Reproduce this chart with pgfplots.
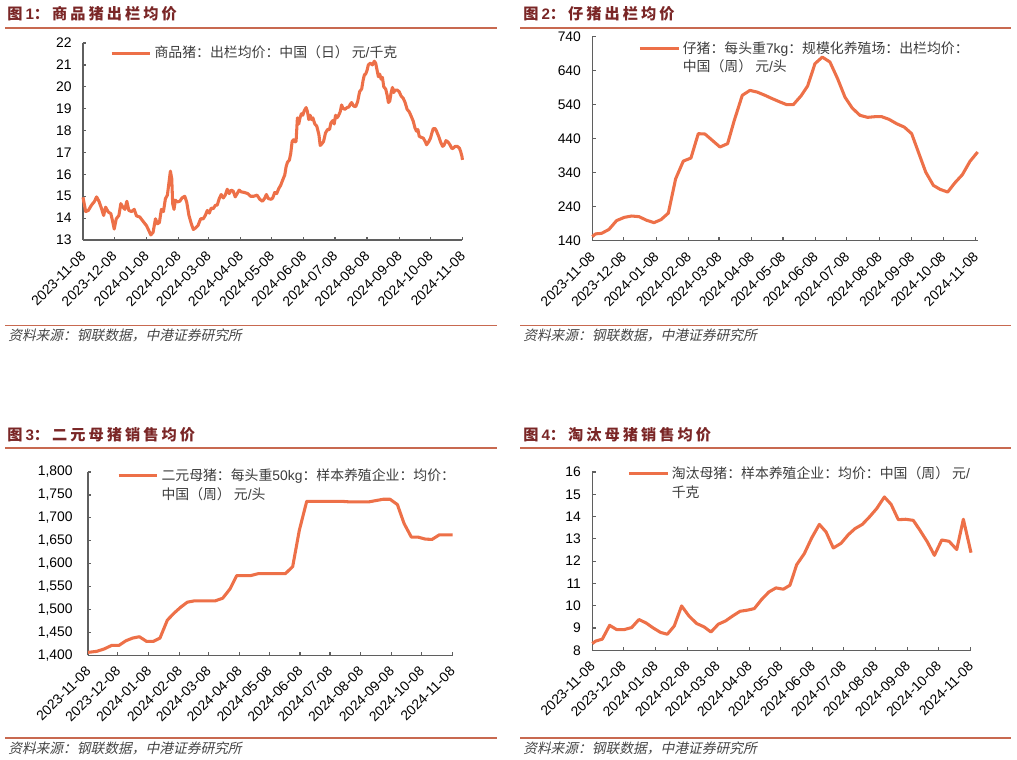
\documentclass[border=0pt]{standalone}
\usepackage{fontspec}
\setmainfont{Liberation Sans}
\newfontfamily\cjk{Noto Sans CJK SC}
\newfontfamily\cjkit[FakeSlant=0.22]{Noto Sans CJK SC}
\newfontfamily\cjkt[LetterSpace=20]{Noto Sans CJK SC}
\usepackage{pgfplots}
\pgfplotsset{compat=1.18}
\definecolor{lc}{RGB}{237,112,72}
\definecolor{tc}{RGB}{122,38,38}
\definecolor{rc}{RGB}{200,105,80}
\definecolor{axc}{RGB}{95,95,95}
\definecolor{legc}{RGB}{60,60,60}
\definecolor{srcc}{RGB}{70,70,70}
\pgfplotsset{
 ser/.style={color=lc, line width=2.3pt, line join=round, mark=none},
 pan/.style={scale only axis, axis lines*=left,
  axis line style={axc,line width=0.9pt},
  tick style={axc,line width=0.9pt},
  tick align=inside, major tick length=2.5pt,
  xmin=0,
  xtick={0,30,61,92,121,152,182,213,243,274,305,335,366},
  xticklabels={2023-11-08,2023-12-08,2024-01-08,2024-02-08,2024-03-08,2024-04-08,2024-05-08,2024-06-08,2024-07-08,2024-08-08,2024-09-08,2024-10-08,2024-11-08},
  xticklabel style={xshift=-2.5pt, yshift=-6pt, rotate=45, anchor=north east, font=\fontsize{10.4}{10}\selectfont, inner sep=1pt},
  yticklabel style={font=\fontsize{10.4}{10}\selectfont, xshift=-5pt},
  /pgf/number format/assume math mode=true,
  legend style={draw=none, fill=none, font=\fontsize{10.4}{13.8}\selectfont\color{legc}, inner sep=0pt, column sep=0pt, anchor=west, cells={align=left, anchor=west, inner sep=2.5pt}},
  legend image code/.code={\draw[lc,line width=2.3pt] (0pt,0pt)--(29pt,0pt);},
  clip=false},
 two/.style={legend image code/.code={\draw[lc,line width=2.3pt] (0pt,6.9pt)--(29pt,6.9pt);}}
}
\begin{document}
\begin{tikzpicture}
\useasboundingbox (0,0) rectangle (762.75pt,-570pt);
% titles
\node[anchor=west, inner sep=0pt, text=tc] at (5.25pt,-10.5pt) {\fontsize{11.4}{12}\selectfont{\cjkt\bfseries 图}\textbf{1}{\cjkt\bfseries ：商品猪出栏均价}};
\node[anchor=west, inner sep=0pt, text=tc] at (392.25pt,-10.5pt) {\fontsize{11.4}{12}\selectfont{\cjkt\bfseries 图}\textbf{2}{\cjkt\bfseries ：仔猪出栏均价}};
\node[anchor=west, inner sep=0pt, text=tc] at (5.25pt,-326.25pt) {\fontsize{11.4}{12}\selectfont{\cjkt\bfseries 图}\textbf{3}{\cjkt\bfseries ：二元母猪销售均价}};
\node[anchor=west, inner sep=0pt, text=tc] at (392.25pt,-326.25pt) {\fontsize{11.4}{12}\selectfont{\cjkt\bfseries 图}\textbf{4}{\cjkt\bfseries ：淘汰母猪销售均价}};
% rules
\draw[rc, line width=1.1pt] (3.75pt,-21pt)--(372.75pt,-21pt);
\draw[rc, line width=1.1pt] (390pt,-21pt)--(758.25pt,-21pt);
\draw[rc, line width=1.1pt] (3.75pt,-244.1pt)--(372.75pt,-244.1pt);
\draw[rc, line width=1.1pt] (390pt,-244.1pt)--(758.25pt,-244.1pt);
\draw[rc, line width=1.1pt] (3.75pt,-336pt)--(372.75pt,-336pt);
\draw[rc, line width=1.1pt] (390pt,-336pt)--(758.25pt,-336pt);
\draw[rc, line width=1.1pt] (3.75pt,-553.5pt)--(372.75pt,-553.5pt);
\draw[rc, line width=1.1pt] (390pt,-553.5pt)--(758.25pt,-553.5pt);
% sources
\node[anchor=west, inner sep=0pt, text=srcc] at (6pt,-251.25pt) {\cjkit\fontsize{10.3}{11}\selectfont 资料来源：钢联数据，中港证券研究所};
\node[anchor=west, inner sep=0pt, text=srcc] at (392.25pt,-251.25pt) {\cjkit\fontsize{10.3}{11}\selectfont 资料来源：钢联数据，中港证券研究所};
\node[anchor=west, inner sep=0pt, text=srcc] at (6pt,-561pt) {\cjkit\fontsize{10.3}{11}\selectfont 资料来源：钢联数据，中港证券研究所};
\node[anchor=west, inner sep=0pt, text=srcc] at (392.25pt,-561pt) {\cjkit\fontsize{10.3}{11}\selectfont 资料来源：钢联数据，中港证券研究所};

% Panel 1
\begin{axis}[pan, at={(62.25pt,-180pt)}, anchor=south west, width=284.6pt, height=147.75pt,
  xmax=366, ymin=13, ymax=22, ytick={13,14,...,22},
  legend style={at={(axis description cs:0.071,0.949)}}]
\addplot[ser] coordinates {(0,14.95) (2.6,14.3) (5.1,14.35) (8.3,14.6) (10.9,14.75) (13.1,14.97) (15.4,14.77) (17.9,14.43) (19.9,14.12) (21.8,14.5) (24.4,14.28) (26.9,14.2) (28.8,13.8) (30.1,13.5) (32.1,13.97) (34.6,14.12) (36.5,14.66) (38.5,14.5) (40.4,14.4) (42.3,14.77) (44.2,14.35) (46.8,14.3) (49.4,14.4) (51.6,14.1) (54.8,14.05) (58.0,13.85) (61.2,13.66) (63.5,13.43) (65.4,13.23) (67.6,13.35) (69.9,13.97) (71.8,13.74) (73.7,13.8) (75.6,14.4) (77.6,14.3) (79.5,14.89) (81.4,15.05) (83.0,15.66) (84.3,16.15) (85.6,15.8) (86.5,14.66) (87.8,14.4) (89.1,14.82) (91.0,14.74) (93.3,14.77) (95.5,14.92) (98.1,15.0) (100.0,14.74) (102.2,14.12) (104.5,13.74) (106.4,13.48) (108.3,13.54) (110.9,13.66) (113.5,13.97) (116.0,13.97) (117.9,14.12) (119.9,14.35) (121.8,14.23) (123.7,14.46) (125.6,14.43) (127.6,14.58) (129.5,14.6) (131.4,14.89) (133.3,15.08) (135.3,14.92) (137.2,15.05) (139.1,15.32) (141.0,15.12) (142.9,15.28) (144.9,15.23) (146.8,14.97) (148.7,15.12) (150.6,15.28) (152.6,15.2) (155.8,15.17) (159.0,15.12) (161.5,15.0) (164.7,15.0) (167.9,15.05) (170.5,14.86) (173.1,14.77) (175.0,14.89) (176.9,15.08) (178.8,14.89) (181.4,14.86) (183.0,14.92) (184.9,15.17) (186.8,15.12) (188.8,15.35) (190.7,15.5) (192.6,15.74) (194.6,15.97) (195.9,16.35) (197.2,16.55) (199.1,16.66) (200.4,16.97) (201.7,17.5) (203.0,17.58) (204.3,17.48) (205.5,17.5) (206.8,18.58) (208.1,18.3) (209.4,18.6) (210.7,18.77) (212.0,18.7) (213.3,18.9) (215.2,19.05) (216.5,18.86) (217.8,18.5) (219.1,18.7) (220.4,18.5) (221.7,18.58) (223.6,18.3) (225.5,18.2) (227.5,17.82) (228.8,17.32) (230.1,17.38) (232.0,17.5) (233.9,17.89) (235.9,18.05) (237.8,18.05) (239.1,18.35) (241.0,18.46) (242.3,18.3) (243.6,18.7) (244.9,18.58) (246.2,18.66) (248.1,18.86) (249.4,19.17) (250.7,19.02) (252.6,18.97) (254.6,19.05) (256.5,19.08) (257.8,19.2) (259.1,19.28) (261.0,19.12) (263.0,19.09) (264.9,19.32) (266.8,19.78) (268.8,19.9) (270.1,20.28) (271.4,20.55) (272.6,20.58) (273.9,20.74) (275.2,21.0) (277.2,21.08) (279.1,21.0) (281.0,21.17) (282.3,21.08) (283.6,20.77) (284.9,20.46) (286.2,20.58) (287.5,20.35) (288.8,20.43) (290.1,20.0) (292.0,19.89) (293.3,19.63) (294.6,19.28) (295.9,19.35) (297.2,19.74) (298.5,19.97) (299.7,19.74) (301.0,19.85) (303.0,19.85) (304.9,19.78) (306.8,19.58) (308.8,19.48) (310.7,19.28) (312.6,18.97) (314.6,18.86) (316.5,18.66) (318.5,18.43) (320.2,18.12) (321.7,17.97) (323.0,18.05) (324.3,17.74) (326.2,17.69) (328.1,17.66) (330.1,17.5) (331.4,17.35) (333.3,17.48) (335.2,17.66) (336.5,17.89) (337.8,18.09) (339.7,18.09) (341.0,17.97) (343.0,17.74) (344.9,17.48) (346.8,17.28) (348.1,17.32) (350.1,17.54) (352.0,17.48) (353.9,17.35) (355.9,17.17) (357.2,17.2) (359.1,17.28) (361.0,17.28) (363.0,17.2) (364.2,17.05) (365.5,16.82) (366,16.66)};
\addlegendentry{{\cjk 商品猪：出栏均价：中国（日）\ 元}/{\cjk 千克}}
\end{axis}

% Panel 2
\begin{axis}[pan, two, at={(444.2pt,-180.5pt)}, anchor=south west, width=289.1pt, height=153pt,
  xmax=368, ymin=140, ymax=740, ytick={140,240,...,740},
  legend style={at={(axis description cs:0.119,0.898)}}]
\addplot[ser] coordinates {(0,152) (3.2,160) (8.9,161.5) (15.9,173) (23.2,199) (30.6,208.6) (37.6,212.5) (44.6,210.6) (51.9,200) (58.9,193) (65.6,201.8) (72.6,221) (79.6,322) (86.9,374) (94.2,383) (101.2,454.7) (107.6,453.7) (114.6,435) (121.9,415.5) (129.2,425.3) (135.6,494) (143.2,567.5) (150.5,582) (157.5,577) (164.9,567.5) (171.9,557.6) (179.2,548) (185.6,540) (191.9,540) (199.2,565.5) (205.6,595) (212.6,660.6) (219.6,680) (226.9,665.5) (234.2,616.5) (241.2,562.5) (248.2,530) (255.6,508.6) (262.9,502.7) (269.9,504.7) (276.3,504.7) (283.3,496.9) (290.6,484) (297.9,474) (304.9,454.7) (311.3,400.8) (318.3,342) (325.6,302.7) (332.0,291) (339.3,283) (346.3,310.6) (353.3,334) (360.6,373.3) (367.9,400.8)};
\addlegendentry{{\cjk 仔猪：每头重}7kg{\cjk ：规模化养殖场：出栏均价：}\\{\cjk 中国（周）\ 元}/{\cjk 头}}
\end{axis}

% Panel 3
\begin{axis}[pan, two, at={(66pt,-491.5pt)}, anchor=south west, width=274pt, height=137.5pt,
  xmax=367, ymin=1400, ymax=1800, ytick={1400,1450,...,1800},
  yticklabel style={xshift=-3pt},
  legend style={at={(axis description cs:0.079,0.929)}}]
\addplot[ser] coordinates {(0,1406.5) (8.7,1408.7) (16.1,1413.8) (23.8,1421.7) (31.1,1421.7) (38.2,1431.9) (44.9,1437.7) (51.6,1440.6) (58.9,1430.4) (65.6,1430.4) (72.3,1437.7) (79.7,1476.8) (86.4,1492) (93.1,1505) (99.8,1516) (107.2,1519) (113.9,1519) (121.2,1519) (127.9,1519) (135.3,1524.6) (142.7,1545) (149.4,1574) (156.7,1574) (163.4,1574) (171.1,1578.3) (178.2,1578.3) (184.9,1578.3) (192.2,1578.3) (198.3,1578.3) (205.6,1593.5) (212.3,1673) (219.7,1736) (226.4,1736) (233.8,1736) (241.1,1736) (248.2,1736) (255.2,1736) (262.6,1734.8) (269.9,1734.8) (276.6,1734.8) (282.0,1734.8) (289.3,1737.7) (296.7,1740.6) (303.4,1740.6) (310.8,1729) (317.5,1687.7) (324.8,1658) (331.5,1658) (338.9,1653.6) (345.6,1652.9) (353.0,1663) (359.7,1663) (366.4,1663)};
\addlegendentry{{\cjk 二元母猪：每头重}50kg{\cjk ：样本养殖企业：均价：}\\{\cjk 中国（周）\ 元}/{\cjk 头}}
\end{axis}

% Panel 4
\begin{axis}[pan, two, at={(444.2pt,-487.7pt)}, anchor=south west, width=284.2pt, height=133.7pt,
  xmax=366.5, ymin=8, ymax=16, ytick={8,9,...,16},
  legend style={at={(axis description cs:0.092,0.938)}}]
\addplot[ser] coordinates {(0,8.3) (3.2,8.41) (9.7,8.5) (16.8,9.12) (23.5,8.93) (31.0,8.93) (38.1,9.02) (45.1,9.38) (51.9,9.23) (59.0,9.0) (66.1,8.8) (72.6,8.72) (79.3,9.09) (86.4,9.99) (93.5,9.54) (101.0,9.2) (108.1,9.05) (114.8,8.82) (121.9,9.17) (129.0,9.32) (135.8,9.54) (142.9,9.75) (150.0,9.8) (156.7,9.87) (163.8,10.28) (170.9,10.62) (177.7,10.8) (184.8,10.74) (191.2,10.92) (197.7,11.84) (205.1,12.34) (212.2,13.04) (219.6,13.65) (226.1,13.31) (233.1,12.59) (240.6,12.8) (247.7,13.19) (254.1,13.46) (261.2,13.65) (268.0,13.98) (275.1,14.36) (282.5,14.88) (289.0,14.55) (296.0,13.86) (303.1,13.88) (310.5,13.83) (317.0,13.38) (324.1,12.86) (330.9,12.26) (338.0,12.95) (345.1,12.89) (352.5,12.52) (358.9,13.88) (366.3,12.38)};
\addlegendentry{{\cjk 淘汰母猪：样本养殖企业：均价：中国（周）\ 元}/\\{\cjk 千克}}
\end{axis}
\end{tikzpicture}
\end{document}
